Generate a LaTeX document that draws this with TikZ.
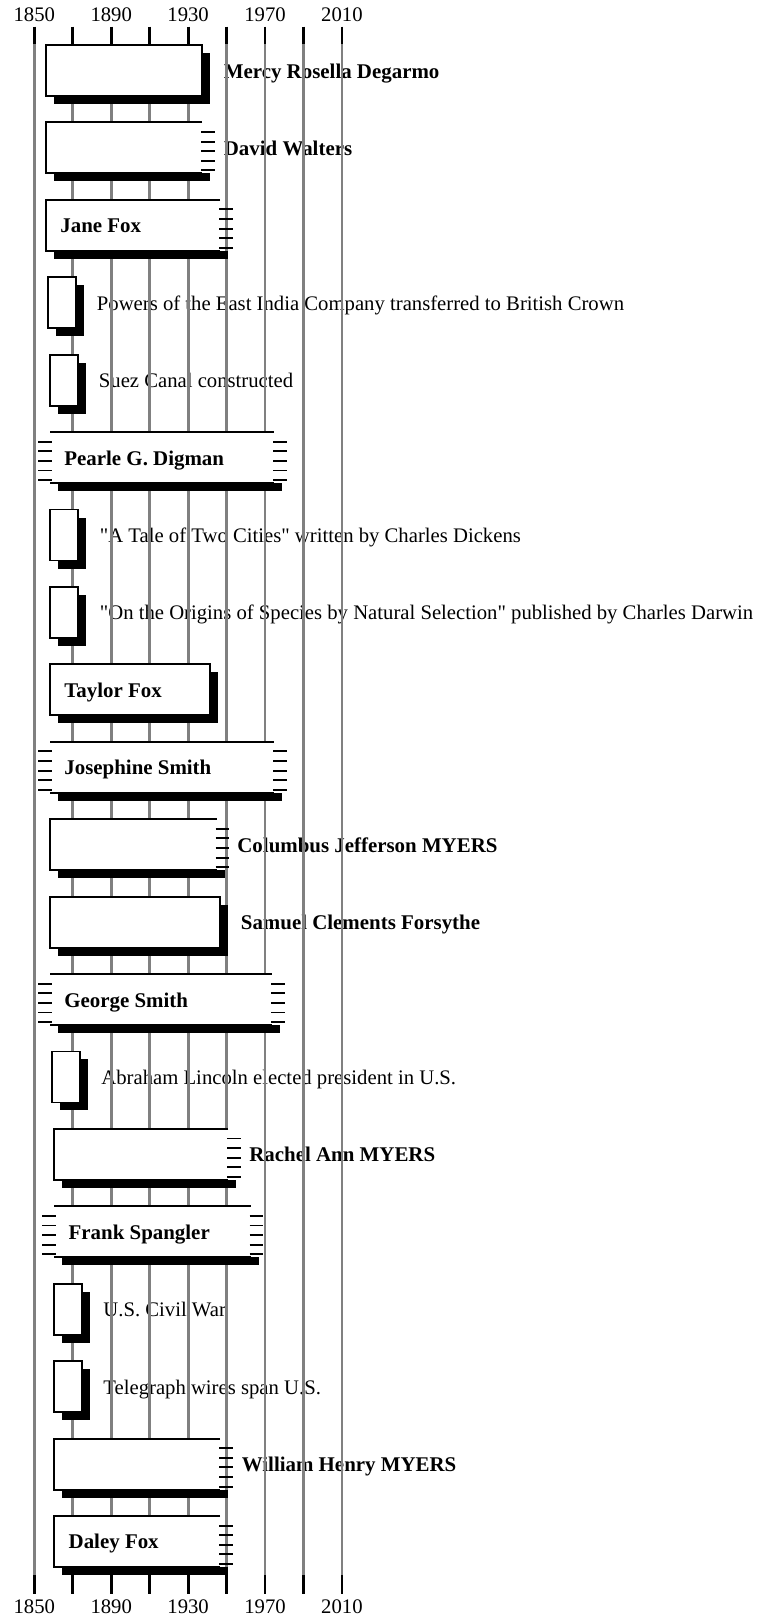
\documentclass[tikz,border=0pt]{standalone}
\usepackage{fontspec}
\setmainfont{Liberation Serif}[Ligatures=TeXOff]
\definecolor{gridgray}{HTML}{808080}
\tikzset{
  every node/.style={inner sep=0pt, font=\fontsize{10.35pt}{12pt}\selectfont},
  gridline/.style={draw=gridgray, line width=1.4pt},
  tickline/.style={draw=black, line width=1.4pt},
  boxline/.style={draw=black, fill=white, line width=0.95pt},
  openline/.style={draw=black, line width=0.95pt},
  shadowfill/.style={fill=black},
  dashline/.style={draw=black, line width=0.95pt},
  namelabel/.style={anchor=base west, font=\fontsize{10.45pt}{12pt}\selectfont\bfseries},
  eventlabel/.style={anchor=base west},
  yearlabel/.style={anchor=base}
}
% closed life box: top, left, right
\newcommand{\lifesolid}[3]{%
  \fill[shadowfill] (#2+8,#1+8) rectangle (#3+8,#1+59);
  \filldraw[boxline] (#2,#1) rectangle (#3,#1+51);}
% open on the right: top, left, right
\newcommand{\liferight}[3]{%
  \fill[shadowfill] (#2+8,#1+51) rectangle (#3+8,#1+59);
  \fill[white] (#2,#1) rectangle (#3,#1+51);
  \draw[openline] (#3,#1) -- (#2,#1) -- (#2,#1+51) -- (#3,#1+51);
  \foreach \dd in {1,...,5}{\draw[dashline] (#3-1,#1+9.6*\dd) -- (#3+12.5,#1+9.6*\dd);}}
% open on both sides: top, left, right
\newcommand{\lifeboth}[3]{%
  \fill[shadowfill] (#2+8,#1+51) rectangle (#3+8,#1+59);
  \fill[white] (#2,#1) rectangle (#3,#1+51);
  \draw[openline] (#2,#1) -- (#3,#1) (#2,#1+51) -- (#3,#1+51);
  \foreach \dd in {1,...,5}{%
    \draw[dashline] (#3-1,#1+9.6*\dd) -- (#3+12.5,#1+9.6*\dd);
    \draw[dashline] (#2+1.5,#1+9.6*\dd) -- (#2-12,#1+9.6*\dd);}}
% event box: top, left
\newcommand{\eventmark}[2]{%
  \fill[shadowfill] (#2+8,#1+8) rectangle (#2+36,#1+59);
  \filldraw[boxline] (#2,#1) rectangle (#2+28,#1+51);}
\begin{document}
\begin{tikzpicture}[x=0.5pt,y=-0.5pt]
\useasboundingbox (0,0) rectangle (756,1618);

% labels outside the boxes (under the grid lines)
\node[namelabel] (mercy) at (223.5,45+33) {Mercy Rosella Degarmo};
\node[namelabel] (david) at (223.5,122.42+33) {David Walters};
\node[eventlabel] (eastindia) at (96.5,277.26+33) {Powers of the East India Company transferred to British Crown};
\node[eventlabel] (suez) at (98.5,354.68+33) {Suez Canal constructed};
\node[eventlabel] (tale) at (99.5,509.52+33) {"A Tale of Two Cities" written by Charles Dickens};
\node[eventlabel] (origins) at (99.5,586.94+33) {"On the Origins of Species by Natural Selection" published by Charles Darwin};
\node[namelabel] (columbus) at (237,819.2+33) {Columbus Jefferson MYERS};
\node[namelabel] (samuel) at (240.5,896.62+33) {Samuel Clements Forsythe};
\node[eventlabel] (lincoln) at (101,1051.46+33) {Abraham Lincoln elected president in U.S.};
\node[namelabel] (rachel) at (249,1128.88+33) {Rachel Ann MYERS};
\node[eventlabel] (civilwar) at (103,1283.72+33) {U.S. Civil War};
\node[eventlabel] (telegraph) at (103,1361.14+33) {Telegraph wires span U.S.};
\node[namelabel] (william) at (241.5,1438.56+33) {William Henry MYERS};

% grid lines, ticks and year labels
\foreach \ii in {0,...,8}{
  \pgfmathsetmacro\xx{34.3+38.45*\ii}
  \draw[gridline] (\xx,44.3) -- (\xx,1575);
  \draw[tickline] (\xx,26.7) -- (\xx,44.3);
  \draw[tickline] (\xx,1575) -- (\xx,1594.3);
}
\foreach \ii/\yr in {0/1850,2/1890,4/1930,6/1970,8/2010}{
  \pgfmathsetmacro\xx{34.3+38.45*\ii}
  \node[yearlabel] (top\yr) at (\xx,21.7) {\yr};
  \node[yearlabel] (bot\yr) at (\xx,1613.3) {\yr};
}

% boxes
\lifesolid{45}{46}{202}
\liferight{122.42}{46}{202}
\liferight{199.84}{46}{220}
\eventmark{277.26}{48.3}
\eventmark{354.68}{50}
\lifeboth{432.1}{50}{274}
\eventmark{509.52}{50}
\eventmark{586.94}{50}
\lifesolid{664.36}{50}{210}
\lifeboth{741.78}{50}{274}
\liferight{819.2}{50}{216.7}
\lifesolid{896.62}{50}{220}
\lifeboth{974.04}{50}{272.3}
\eventmark{1051.46}{51.7}
\liferight{1128.88}{54.3}{228.3}
\lifeboth{1206.3}{54.3}{250.7}
\eventmark{1283.72}{54.3}
\eventmark{1361.14}{54.3}
\liferight{1438.56}{54.3}{220}
\liferight{1515.98}{54.3}{220}

% labels inside the boxes
\node[namelabel] (jane) at (60,199.84+33) {Jane Fox};
\node[namelabel] (pearle) at (64,432.1+33) {Pearle G. Digman};
\node[namelabel] (taylor) at (64,664.36+33) {Taylor Fox};
\node[namelabel] (josephine) at (64,741.78+33) {Josephine Smith};
\node[namelabel] (george) at (64,974.04+33) {George Smith};
\node[namelabel] (frank) at (68.3,1206.3+33) {Frank Spangler};
\node[namelabel] (daley) at (68.3,1515.98+33) {Daley Fox};
\end{tikzpicture}
\end{document}
